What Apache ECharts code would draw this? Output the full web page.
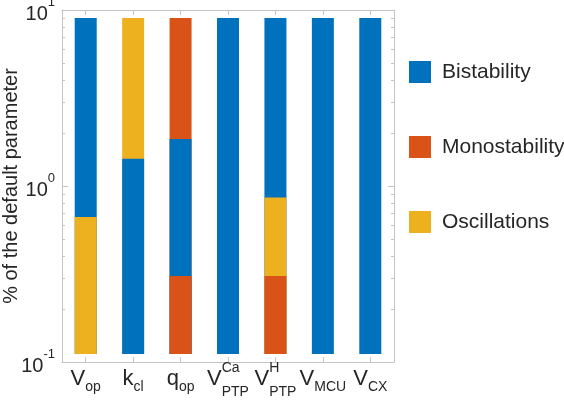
<!DOCTYPE html>
<html><head><meta charset="utf-8">
<script src="https://cdn.jsdelivr.net/npm/echarts@6/dist/echarts.min.js"></script>
<style>html,body{margin:0;padding:0;background:#fff}#c{width:564px;height:400px}</style>
</head><body><div id="c"></div>
<script>
// ---- data ----
const catMain = ['V', 'k', 'q', 'V', 'V', 'V', 'V'];
const catSub = ['op', 'cl', 'op', 'PTP', 'PTP', 'MCU', 'CX'];
const catSup = ['', '', '', 'Ca', 'H', '', ''];
const barBottom = 0.111;
const barTop = 9;
// states from bottom to top per category
const segStates = [
  ['Oscillations', 'Bistability'],
  ['Bistability', 'Oscillations'],
  ['Monostability', 'Bistability', 'Monostability'],
  ['Bistability'],
  ['Monostability', 'Oscillations', 'Bistability'],
  ['Bistability'],
  ['Bistability']
];
// boundaries between the segments (bottom to top)
const segBounds = [[0.667], [1.43], [0.308, 1.85], [], [0.308, 0.86], [], []];
const stateNames = ['Bistability', 'Monostability', 'Oscillations'];
const stateColors = ['#0072BD', '#D95319', '#EDB120'];
const yTickValues = [0.1, 1, 10];
const yTickExp = ['-1', '0', '1'];
const yMinorTicks = [0.2, 0.3, 0.4, 0.5, 0.6, 0.7, 0.8, 0.9, 2, 3, 4, 5, 6, 7, 8, 9];

// ---- build ----
const FONT = '"Liberation Sans", Arial, Helvetica, sans-serif';
const TXT = '#262626';
const AX = '#c4c4c4';
const cv = document.createElement('canvas').getContext('2d');
function tw(s, size) { cv.font = size + 'px "Liberation Sans"'; return cv.measureText(s).width; }

const MAIN_FS = 22, SMALL_FS = 14;
const catIds = catMain.map((m, i) => String(i));
const richMain = { v: { fontFamily: FONT, fontSize: MAIN_FS, color: TXT, lineHeight: 22 } };
const richSub = {
  sub: { fontFamily: FONT, fontSize: SMALL_FS, color: TXT, lineHeight: 14 },
  subl: { fontFamily: FONT, fontSize: SMALL_FS, color: TXT, lineHeight: 24 }
};
const richSup = { sup: { fontFamily: FONT, fontSize: SMALL_FS, color: TXT, lineHeight: 14 } };
catMain.forEach((m, i) => {
  const wm = tw(m, MAIN_FS), ws = tw(catSub[i], SMALL_FS), wp = catSup[i] ? tw(catSup[i], SMALL_FS) : 0;
  const wr = Math.max(ws, wp);
  richMain['w' + i] = { width: wr, fontSize: 10, lineHeight: 10 };
  richSub['m' + i] = { width: wm, fontSize: 10, lineHeight: 10 };
  richSub['r' + i] = { width: Math.max(0.01, wr - ws), fontSize: 10, lineHeight: 10 };
  richSup['m' + i] = { width: wm, fontSize: 10, lineHeight: 10 };
  richSup['r' + i] = { width: Math.max(0.01, wr - wp), fontSize: 10, lineHeight: 10 };
});
function mainLabel(val) { const i = Number(val); return '{v|' + catMain[i] + '}{w' + i + '| }'; }
function subLabel(val) {
  const i = Number(val);
  const st = catSup[i] ? 'subl' : 'sub';
  return '{m' + i + '| }{' + st + '|' + catSub[i] + '}{r' + i + '| }';
}
function supLabel(val) {
  const i = Number(val);
  if (!catSup[i]) return '';
  return '{m' + i + '| }{sup|' + catSup[i] + '}{r' + i + '| }';
}
function colorOf(name) { return stateColors[stateNames.indexOf(name)]; }

const layerSeries = [0, 1, 2].map(j => ({
  name: 'layer' + j,
  type: 'bar',
  xAxisIndex: 0, yAxisIndex: 0,
  barWidth: 22, barGap: '-100%',
  silent: true,
  data: segStates.map((st, i) => {
    const k = st.length - 1 - j;
    if (k < 0) return '-';
    const uppers = segBounds[i].concat([barTop]);
    return { value: uppers[k], itemStyle: { color: colorOf(st[k]) } };
  })
}));
const legendSeries = stateNames.map((n, k) => ({
  name: n, type: 'bar', xAxisIndex: 0, yAxisIndex: 0, barWidth: 22, barGap: '-100%',
  itemStyle: { color: stateColors[k] }, data: []
}));

const lineStyle = { color: AX, width: 1 };
const yCommon = { type: 'log', logBase: 10, min: 0.1, max: 10, splitLine: { show: false }, minorTick: { show: false } };
const hiddenX = {
  type: 'category', data: catIds, position: 'bottom',
  axisLine: { show: false }, axisTick: { show: false }, splitLine: { show: false }
};

const option = {
  animation: false,
  backgroundColor: '#fff',
  textStyle: { fontFamily: FONT },
  grid: { left: 62, right: 170, top: 10, bottom: 38, containLabel: false, outerBoundsMode: 'none' },
  legend: {
    orient: 'vertical', left: 409, top: 61, padding: 0,
    data: stateNames, icon: 'rect', itemWidth: 22, itemHeight: 22, itemGap: 53,
    selectedMode: false,
    textStyle: { fontFamily: FONT, fontSize: 21, color: TXT, padding: [0, 0, 0, 6] }
  },
  xAxis: [
    {
      type: 'category', data: catIds, position: 'bottom',
      axisLine: { show: true, lineStyle },
      axisTick: { show: true, inside: true, alignWithLabel: true, length: 5, lineStyle },
      axisLabel: { margin: 6, formatter: mainLabel, rich: richMain, interval: 0 }
    },
    {
      type: 'category', data: catIds, position: 'top',
      axisLine: { show: true, lineStyle },
      axisTick: { show: true, inside: true, alignWithLabel: true, length: 5, lineStyle },
      axisLabel: { show: false }
    },
    Object.assign({}, hiddenX, { axisLabel: { margin: 18, formatter: subLabel, rich: richSub, interval: 0 } }),
    Object.assign({}, hiddenX, { axisLabel: { margin: -1, formatter: supLabel, rich: richSup, interval: 0 } })
  ],
  yAxis: [
    Object.assign({}, yCommon, {
      position: 'left', startValue: barBottom,
      axisLine: { show: true, lineStyle },
      axisTick: { show: true, inside: true, length: 6, lineStyle },
      axisLabel: {
        margin: 7,
        formatter: v => {
          const idx = yTickValues.findIndex(t => Math.abs(t - v) / t < 1e-6);
          return idx < 0 ? '' : '{h| }{b|10}{s|' + yTickExp[idx] + '}';
        },
        rich: {
          h: { width: 0.01, fontSize: 10, lineHeight: 28 },
          b: { fontFamily: FONT, fontSize: 20, color: TXT, lineHeight: 20, verticalAlign: 'bottom' },
          s: { fontFamily: FONT, fontSize: 13, color: TXT, lineHeight: 18, verticalAlign: 'top' }
        }
      },
      name: '% of the default parameter', nameLocation: 'middle', nameRotate: 90, nameGap: 41,
      nameMoveOverlap: false,
      nameTextStyle: { fontFamily: FONT, fontSize: 20, color: TXT }
    }),
    Object.assign({}, yCommon, {
      position: 'right',
      axisLine: { show: true, lineStyle },
      axisTick: { show: true, inside: true, length: 6, lineStyle },
      axisLabel: { show: false }
    }),
    Object.assign({}, yCommon, {
      position: 'left',
      axisLine: { show: false },
      axisTick: { show: true, inside: true, length: 3, lineStyle, customValues: yMinorTicks },
      axisLabel: { show: false }
    }),
    Object.assign({}, yCommon, {
      position: 'right',
      axisLine: { show: false },
      axisTick: { show: true, inside: true, length: 3, lineStyle, customValues: yMinorTicks },
      axisLabel: { show: false }
    })
  ],
  series: layerSeries.concat(legendSeries)
};
const chart = echarts.init(document.getElementById('c'), null, { renderer: 'canvas' });
chart.setOption(option);
</script>
</body></html>
